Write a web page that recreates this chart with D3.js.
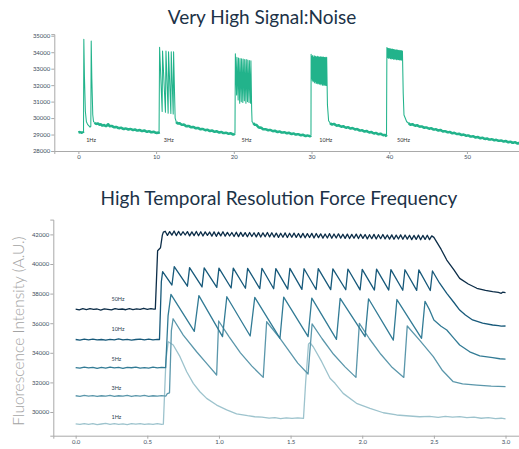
<!DOCTYPE html>
<html>
<head>
<meta charset="utf-8">
<script src="https://cdn.jsdelivr.net/npm/d3@7"></script>
<style>
  body { margin: 0; background: #fff; }
  svg text { font-family: Lato, "Open Sans", sans-serif; }
  .axis path, .axis line { stroke: #a9a9a9; }
  .axis text { fill: #3e4e60; font-size: 6px; }
</style>
</head>
<body>
<svg id="chart" width="519" height="449"></svg>
<script>

/* ---- top panel: one long trace, [seconds, intensity] ---- */
var snrTrace = [
  [0,29120],[0.2,29160],[0.4,29100],[0.6,29140],[0.66,29100],
  // 1Hz
  [0.7,34780],[0.78,32500],[0.9,30400],[1.03,29780],[1.2,29600],[1.33,29540],[1.5,29450],[1.6,29500],
  [1.65,34680],[1.73,32400],[1.85,30200],[1.95,29780],[2.1,29720],
  [2.3,29600],[2.5,29720],[2.7,29560],[2.9,29660],[3.1,29500],[3.3,29620],[3.5,29480],[3.7,29560],[3.85,29660],
  [4.0,29470],[4.3,29560],[4.6,29400],[4.9,29500],[5.2,29350],[5.5,29450],[5.8,29300],[6.1,29410],[6.4,29270],
  [6.7,29380],[7.0,29240],[7.3,29340],[7.6,29200],[7.9,29310],[8.2,29170],[8.5,29280],[8.8,29130],[9.1,29240],
  [9.4,29100],[9.7,29200],[10.0,29070],[10.3,29150],[10.38,29050],
  // 3Hz
  [10.45,34300],[10.78,30400],[10.83,34070],[11.2,30350],[11.27,34070],[11.55,30300],[11.6,34030],
  [11.9,30280],[11.95,34030],[12.2,30250],[12.25,34030],[12.45,30000],[12.6,29760],
  [12.8,29640],[13.0,29720],[13.3,29560],[13.6,29640],[13.9,29460],[14.2,29560],[14.5,29400],[14.8,29500],
  [15.1,29340],[15.4,29440],[15.7,29280],[16.0,29380],[16.3,29230],[16.6,29330],[16.9,29180],[17.2,29280],
  [17.5,29130],[17.8,29230],[18.1,29090],[18.4,29190],[18.7,29050],[19.0,29150],[19.3,29010],[19.6,29110],
  [19.9,28970],[20.15,29050],
  // 5Hz
  [20.2,33900],[20.36,31400],[20.4,33700],[20.56,31100],[20.6,33650],[20.76,30900],[20.8,33620],[20.96,31000],
  [21.0,33600],[21.16,30950],[21.2,33580],[21.36,31050],[21.4,33560],[21.56,30900],[21.6,33550],[21.76,31000],
  [21.8,33530],[21.96,30950],[22.0,33500],[22.16,30900],[22.2,33480],[22.3,30500],[22.35,29780],
  [22.5,29700],[22.7,29560],[22.9,29640],[23.2,29380],[23.5,29460],[23.8,29280],[24.1,29360],[24.4,29220],
  [24.7,29320],[25.0,29170],[25.3,29260],[25.6,29120],[25.9,29220],[26.2,29080],[26.5,29180],[26.8,29040],
  [27.1,29140],[27.4,29000],[27.7,29100],[28.0,28960],[28.3,29060],[28.6,28920],[28.9,29020],[29.2,28880],
  [29.5,28980],[29.8,28860],[29.93,28950],
  // 10Hz
  [29.95,33870],[30.0,32400],[30.05,33750],[30.1,32300],[30.15,33800],[30.2,32200],[30.25,33700],[30.3,32250],
  [30.35,33780],[30.4,32150],[30.45,33720],[30.5,32200],[30.55,33760],[30.6,32100],[30.65,33690],[30.7,32150],
  [30.75,33750],[30.8,32080],[30.85,33700],[30.9,32120],[30.95,33740],[31.0,32050],[31.05,33680],[31.1,32100],
  [31.15,33730],[31.2,32020],[31.25,33690],[31.3,32080],[31.35,33720],[31.4,32000],[31.45,33670],[31.5,32050],
  [31.55,33710],[31.6,31980],[31.65,33680],[31.7,32030],[31.75,33700],[31.8,32000],[31.85,33660],[31.9,31980],
  [31.95,33690],[32.05,30800],[32.2,29840],[32.4,29700],
  [32.6,29580],[32.9,29680],[33.2,29500],[33.5,29600],[33.8,29440],[34.1,29540],[34.4,29380],[34.7,29480],
  [35.0,29330],[35.3,29430],[35.6,29270],[35.9,29370],[36.2,29200],[36.5,29300],[36.8,29150],[37.1,29250],
  [37.4,29090],[37.7,29190],[38.0,29030],[38.3,29130],[38.6,28980],[38.9,29080],[39.2,28930],[39.5,29010],
  [39.65,28880],
  // 50Hz
  [39.7,34280],[39.75,33650],[39.8,34240],[39.85,33680],[39.9,34230],[39.95,33620],[40.0,34220],[40.05,33660],
  [40.1,34200],[40.15,33600],[40.2,34210],[40.25,33640],[40.3,34180],[40.35,33590],[40.4,34190],[40.45,33620],
  [40.5,34160],[40.55,33580],[40.6,34170],[40.65,33600],[40.7,34150],[40.75,33560],[40.8,34140],[40.85,33600],
  [40.9,34150],[40.95,33550],[41.0,34120],[41.05,33580],[41.1,34130],[41.15,33540],[41.2,34100],[41.25,33560],
  [41.3,34110],[41.35,33530],[41.4,34090],[41.45,33550],[41.5,34100],[41.55,33520],[41.6,34080],[41.65,33540],
  [41.7,34070],[41.8,31500],[41.9,30190],[42.25,29780],[42.5,29700],
  [42.7,29560],[43.0,29660],[43.3,29500],[43.6,29600],[43.9,29440],[44.2,29530],[44.5,29380],[44.8,29470],
  [45.1,29320],[45.4,29420],[45.7,29260],[46.0,29360],[46.3,29210],[46.6,29310],[46.9,29150],[47.2,29240],
  [47.5,29100],[47.8,29190],[48.1,29040],[48.4,29140],[48.7,28990],[49.0,29080],[49.3,28940],[49.6,29030],
  [49.9,28890],[50.2,28980],[50.5,28840],[50.8,28930],[51.1,28790],[51.4,28880],[51.7,28740],[52.0,28840],
  [52.3,28700],[52.6,28790],[52.9,28660],[53.2,28750],[53.5,28620],[53.8,28710],[54.1,28580],[54.4,28680],
  [54.7,28540],[55.0,28640],[55.3,28500],[55.6,28600],[55.9,28460],[56.2,28570],[56.5,28420],[56.8,28520]
];
// stimulation windows (seconds) - the rest of the trace is the noisy baseline
var snrBursts = [[0.68, 2.1], [10.4, 12.6], [20.17, 22.5], [29.94, 32.4], [39.67, 42.5]];
var snrLabels = ["1Hz", "3Hz", "5Hz", "10Hz", "50Hz"];
var snrLabelTimes = [1, 11, 21, 31, 41];
var snrYTicks = [28000, 29000, 30000, 31000, 32000, 33000, 34000, 35000];
var snrXTicks = [0, 10, 20, 30, 40, 50];

/* ---- bottom panel: five stimulation frequencies ---- */
var hz50Start = [
  [0,36950],[0.025,36900],[0.05,36980],[0.075,36920],[0.1,36990],[0.125,36930],[0.15,36960],[0.175,36890],
  [0.2,36970],[0.225,36940],[0.25,36900],[0.275,36990],[0.3,36930],[0.325,36960],[0.35,36910],[0.375,36980],
  [0.4,36920],[0.425,36970],[0.45,36940],[0.475,37010],[0.5,36930],[0.525,36990],[0.545,36950],[0.556,36960],
  [0.572,40900],[0.592,41100],[0.605,41950],[0.612,42150]
];
// ripple on the 50Hz plateau, sampled every 0.0155 s from 0.625 s
var hz50RippleStart = 0.625, hz50RippleStep = 0.0155;
var hz50Ripple = [
  42210,41930,42190,41950,42230,41920,42200,41940,42180,41960,
  42190,41900,42170,41920,42200,41910,42180,41890,42170,41930,
  42160,41880,42170,41870,42150,41900,42180,41880,42140,41890,
  42130,41860,42150,41850,42140,41870,42120,41840,42130,41860,
  42110,41830,42120,41820,42100,41840,42130,41830,42110,41820,
  42090,41800,42080,41810,42100,41790,42080,41810,42090,41800,
  42060,41780,42070,41770,42050,41790,42070,41760,42060,41780,
  42040,41750,42030,41760,42050,41740,42030,41760,42040,41750,
  42010,41730,42020,41720,42000,41740,42020,41720,42010,41730,
  41990,41700,41980,41710,42000,41690,41980,41710,41990,41700,
  41960,41680,41970,41670,41950,41690,41970,41670,41960,41680,
  41940,41650,41930,41660,41950,41640,41930,41660,41940,41650,
  41900
];
var hz50End = [
  [2.5,41800],[2.55,41000],[2.59,40270],[2.64,39600],[2.68,39030],[2.74,38650],[2.8,38360],[2.86,38220],
  [2.91,38130],[2.95,38080],[2.97,38020],[2.98,38100],[3.0,38060]
];
var hz10 = [
  [0,34900],[0.03,34860],[0.06,34920],[0.09,34880],[0.12,34930],[0.15,34870],[0.18,34900],[0.21,34850],
  [0.24,34910],[0.27,34880],[0.3,34940],[0.33,34870],[0.36,34910],[0.39,34860],[0.42,34900],[0.45,34930],
  [0.48,34870],[0.51,34920],[0.54,34880],[0.57,34910],[0.585,34900],[0.598,38800],[0.607,39480],
  [0.672,38580],[0.688,39820],[0.78,38500],[0.795,39760],[0.882,38450],[0.897,39740],[0.985,38420],[1.0,39720],
  [1.085,38380],[1.1,39720],[1.185,38360],[1.2,39700],[1.285,38340],[1.3,39710],[1.382,38330],[1.397,39690],
  [1.48,38300],[1.495,39700],[1.579,38290],[1.594,39680],[1.678,38280],[1.693,39690],[1.78,38270],[1.795,39670],
  [1.885,38260],[1.9,39660],[1.985,38250],[2.0,39640],[2.085,38240],[2.1,39650],[2.185,38240],[2.2,39620],
  [2.283,38230],[2.298,39610],[2.38,38220],[2.395,39600],[2.475,38210],[2.49,39530],
  [2.54,38700],[2.59,38020],[2.64,37400],[2.68,36890],[2.72,36550],[2.77,36220],[2.84,36000],[2.91,35880],
  [2.95,35840],[2.97,35800],[3.0,35810]
];
var hz5 = [
  [0,33000],[0.03,32960],[0.06,33030],[0.09,32980],[0.12,33020],[0.15,32950],[0.18,33010],[0.21,32970],
  [0.24,33040],[0.27,32980],[0.3,33010],[0.33,32950],[0.36,33020],[0.39,32990],[0.42,33030],[0.45,32960],
  [0.48,33000],[0.51,32970],[0.54,33030],[0.57,32980],[0.6,33010],[0.628,33000],
  [0.645,36500],[0.665,37950],[0.828,35450],[0.86,37860],[1.025,35090],[1.055,37790],[1.218,35135],[1.25,37750],
  [1.426,34980],[1.452,37760],[1.622,35090],[1.648,37700],[1.82,34910],[1.846,37680],[2.02,35090],[2.044,37650],
  [2.217,34860],[2.242,37600],[2.414,34980],[2.438,37480],
  [2.47,36900],[2.5,36220],[2.55,35800],[2.59,35540],[2.64,34980],[2.68,34530],[2.75,34070],[2.82,33800],
  [2.91,33670],[2.96,33600],[3.0,33580]
];
var hz3 = [
  [0,31100],[0.03,31060],[0.06,31120],[0.09,31070],[0.12,31110],[0.15,31050],[0.18,31100],[0.21,31080],
  [0.24,31130],[0.27,31060],[0.3,31100],[0.33,31070],[0.36,31120],[0.39,31050],[0.42,31110],[0.45,31080],
  [0.48,31120],[0.51,31060],[0.54,31100],[0.57,31070],[0.6,31110],[0.63,31080],[0.64,31250],[0.655,31300],
  [0.668,35500],[0.68,36300],[0.751,35200],[0.844,34070],[0.914,33290],[0.984,32500],
  [0.998,36150],[1.07,35100],[1.15,34000],[1.23,33100],[1.309,32340],
  [1.333,36100],[1.426,34980],[1.55,33300],[1.622,32570],
  [1.65,35950],[1.72,34950],[1.8,33900],[1.88,33050],[1.956,32340],
  [1.98,35990],[2.05,34950],[2.13,33900],[2.21,33000],[2.29,32340],
  [2.314,35810],[2.4,34860],[2.496,33740],[2.56,32800],[2.635,32050],[2.7,31900],[2.8,31820],[2.9,31750],[3.0,31710]
];
var hz1 = [
  [0,29200],[0.03,29160],[0.06,29220],[0.09,29170],[0.12,29210],[0.15,29150],[0.18,29190],[0.21,29230],
  [0.24,29170],[0.27,29210],[0.3,29160],[0.33,29200],[0.36,29150],[0.39,29220],[0.42,29180],[0.45,29210],
  [0.48,29160],[0.51,29200],[0.54,29170],[0.57,29220],[0.6,29160],[0.612,29180],
  [0.63,33500],[0.646,34750],[0.681,34530],[0.728,33740],[0.775,32720],[0.821,31940],[0.867,31370],[0.914,30920],
  [0.984,30470],[1.054,30140],[1.123,29880],[1.2,29750],[1.25,29680],[1.3,29650],[1.35,29590],[1.39,29620],
  [1.43,29560],[1.47,29610],[1.51,29570],[1.55,29600],[1.59,29570],
  [1.605,32000],[1.625,34600],[1.635,34680],[1.658,34410],[1.717,33400],[1.775,32280],[1.81,31940],[1.867,31260],
  [1.96,30590],[2.054,30250],[2.147,29950],[2.24,29800],[2.33,29730],[2.4,29680],[2.47,29700],[2.53,29640],
  [2.58,29700],[2.63,29650],[2.68,29690],[2.73,29620],[2.78,29660],[2.83,29580],[2.88,29620],[2.93,29550],
  [2.97,29580],[3.0,29530]
];
var forceNames = ["50Hz", "10Hz", "5Hz", "3Hz", "1Hz"];
var forceLabelValues = [37650, 35600, 33600, 31650, 29650];
var forceLabelTime = 0.25;
var forceColors = ["#0c2d48", "#17597a", "#327b95", "#5b97ab", "#9dc3cd"];
var forceYTicks = [30000, 32000, 34000, 36000, 38000, 40000, 42000];
var forceXTicks = [0, 0.5, 1, 1.5, 2, 2.5, 3];

var hz50 = hz50Start
  .concat(hz50Ripple.map(function (v, i) { return [hz50RippleStart + i * hz50RippleStep, v]; }))
  .concat(hz50End);
var forceSeries = [hz50, hz10, hz5, hz3, hz1];

var svg = d3.select("#chart");

/* ================= top panel ================= */
var tx = d3.scaleLinear().domain([-3.1, 56.7]).range([54.3, 519]);
var ty = d3.scaleLinear().domain([28000, 35100]).range([151, 34.1]);

svg.append("text")
  .attr("x", 262).attr("y", 24)
  .attr("text-anchor", "middle")
  .style("font-size", "19px")
  .style("fill", "#1c3247")
  .text("Very High Signal:Noise");

svg.append("g")
  .attr("class", "axis")
  .attr("transform", "translate(54.3,0)")
  .call(d3.axisLeft(ty).tickValues(snrYTicks).tickSize(3).tickPadding(1).tickFormat(d3.format("d")));

svg.append("g")
  .attr("class", "axis")
  .attr("transform", "translate(0,151)")
  .call(d3.axisBottom(tx).tickValues(snrXTicks).tickSize(3).tickPadding(0.5).tickFormat(d3.format("d")));

var burstLine = d3.line()
  .x(function (d) { return tx(d[0]); })
  .y(function (d) { return ty(d[1]); });

// baseline noise is drawn as a soft thick band
var restLine = d3.line()
  .x(function (d) { return tx(d[0]); })
  .y(function (d) { return ty(d[1]); })
  .curve(d3.curveBasis);

// split the trace into baseline runs and stimulation runs (shared end points)
function inBurst(t) {
  return snrBursts.some(function (w) { return t >= w[0] && t <= w[1]; });
}
var runs = [];
snrTrace.forEach(function (p, i) {
  var b = inBurst(p[0]);
  var last = runs[runs.length - 1];
  if (!last || last.burst !== b) {
    var pts = last ? [snrTrace[i - 1], p] : [p];
    runs.push({ burst: b, pts: pts });
  } else {
    last.pts.push(p);
  }
});

svg.selectAll(".snrRun")
  .data(runs)
  .enter().append("path")
  .attr("class", "snrRun")
  .attr("d", function (r) { return r.burst ? burstLine(r.pts) : restLine(r.pts); })
  .attr("fill", "none")
  .attr("stroke", "#22b38b")
  .attr("stroke-width", function (r) { return r.burst ? 1.05 : 2.6; })
  .attr("stroke-linejoin", "round");

svg.selectAll(".snrLabel")
  .data(snrLabels)
  .enter().append("text")
  .attr("class", "snrLabel")
  .attr("x", function (d, i) { return tx(snrLabelTimes[i]); })
  .attr("y", ty(28670))
  .attr("dy", "0.35em")
  .style("font-size", "5.5px")
  .style("fill", "#333")
  .text(function (d) { return d; });

/* ================= bottom panel ================= */
var bx = d3.scaleLinear().domain([-0.156, 3.094]).range([53.3, 519]);
var by = d3.scaleLinear().domain([28400, 43000]).range([435.7, 219.6]);

svg.append("text")
  .attr("x", 279).attr("y", 205)
  .attr("text-anchor", "middle")
  .style("font-size", "19px")
  .style("fill", "#1c3247")
  .text("High Temporal Resolution Force Frequency");

svg.append("text")
  .attr("transform", "translate(23.5,331) rotate(-90)")
  .attr("text-anchor", "middle")
  .style("font-size", "15.5px")
  .style("font-weight", 300)
  .style("fill", "#a3a3a3")
  .text("Fluorescence Intensity (A.U.)");

svg.append("g")
  .attr("class", "axis")
  .attr("transform", "translate(53.3,0)")
  .call(d3.axisLeft(by).tickValues(forceYTicks).tickSize(3).tickPadding(1).tickFormat(d3.format("d")));

svg.append("g")
  .attr("class", "axis")
  .attr("transform", "translate(0,435.7)")
  .call(d3.axisBottom(bx).tickValues(forceXTicks).tickSize(3).tickPadding(1).tickFormat(d3.format(".1f")));

var botLine = d3.line()
  .x(function (d) { return bx(d[0]); })
  .y(function (d) { return by(d[1]); });

// draw lightest first so the dark traces sit on top
forceSeries.slice().reverse().forEach(function (s, k) {
  var i = forceSeries.length - 1 - k;
  svg.append("path")
    .datum(s)
    .attr("d", botLine)
    .attr("fill", "none")
    .attr("stroke", forceColors[i])
    .attr("stroke-width", 1.3)
    .attr("stroke-linejoin", "round");
});

svg.selectAll(".forceLabel")
  .data(forceNames)
  .enter().append("text")
  .attr("class", "forceLabel")
  .attr("x", bx(forceLabelTime))
  .attr("y", function (d, i) { return by(forceLabelValues[i]); })
  .attr("dy", "0.35em")
  .style("font-size", "5.5px")
  .style("fill", "#2d3e50")
  .text(function (d) { return d; });

</script>
</body>
</html>
